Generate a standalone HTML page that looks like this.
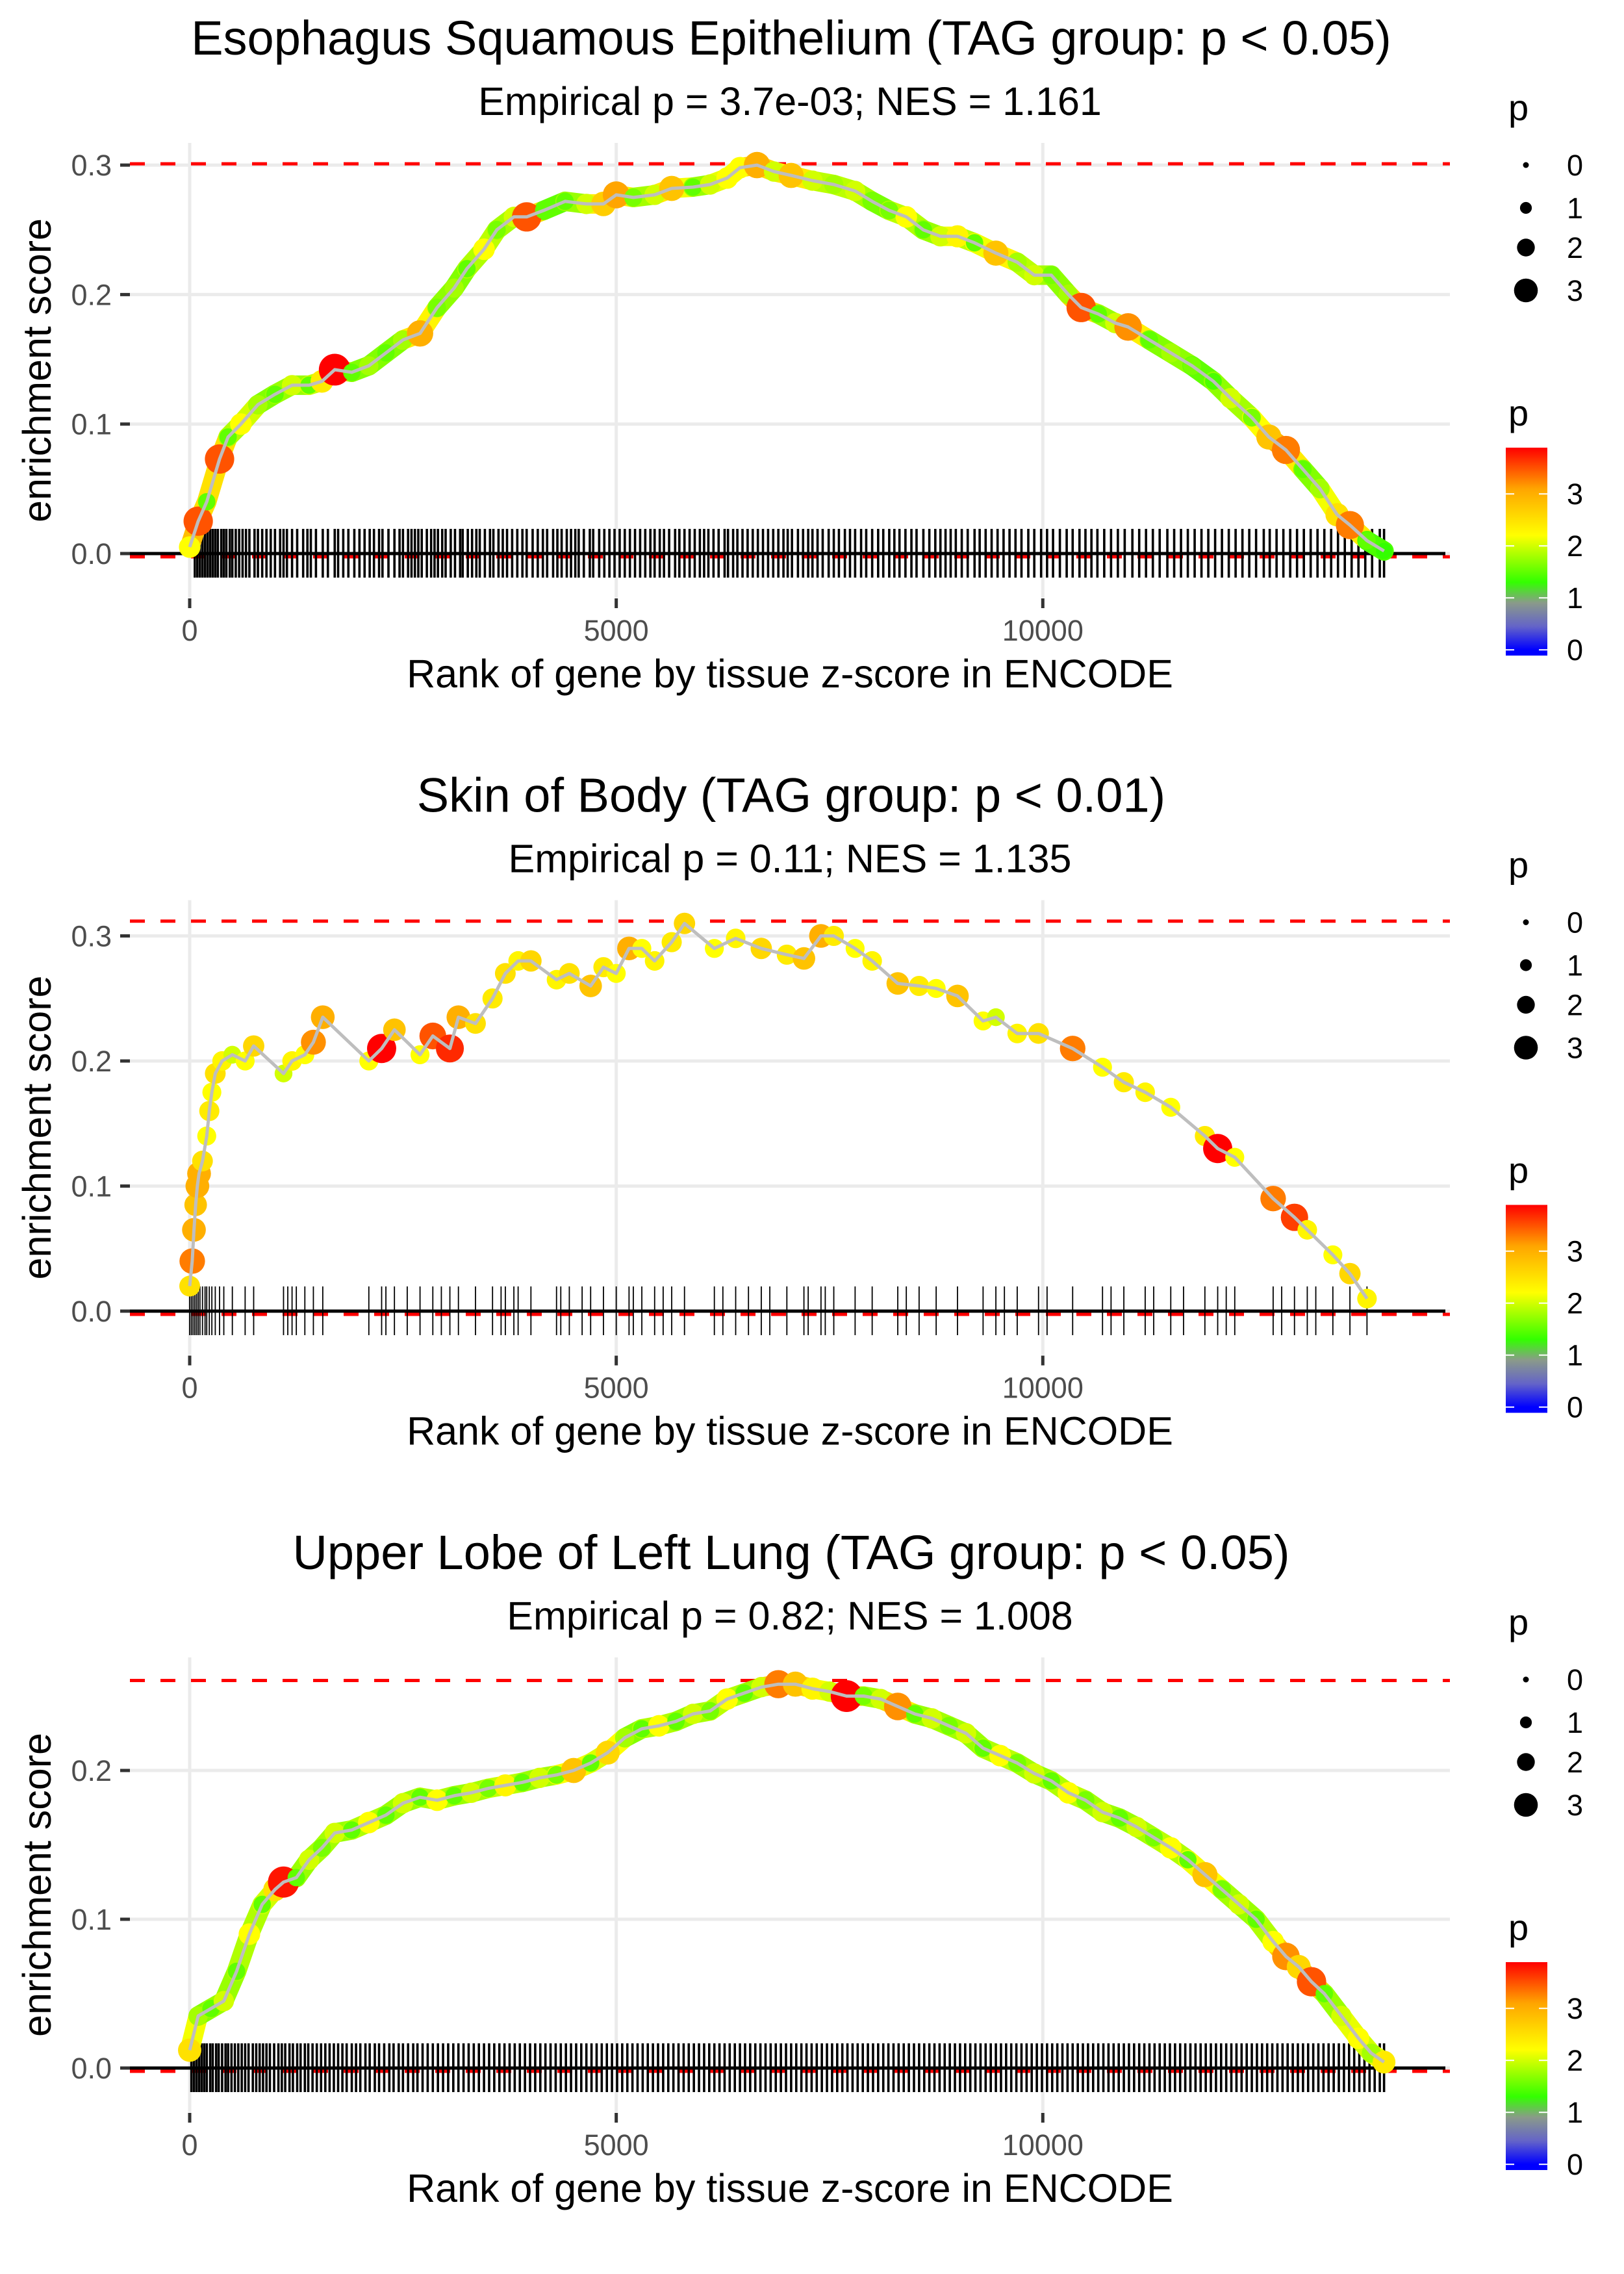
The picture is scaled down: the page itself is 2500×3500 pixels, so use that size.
<!DOCTYPE html>
<html><head><meta charset="utf-8"><style>
html,body{margin:0;padding:0;background:#fff;}
svg{display:block;font-family:"Liberation Sans",Arial,sans-serif;}
</style></head><body>
<svg id="chart" width="2500" height="3500" viewBox="0 0 2500 3500" xmlns="http://www.w3.org/2000/svg"></svg>
<script>
const titles = ["Esophagus Squamous Epithelium (TAG group: p < 0.05)","Skin of Body (TAG group: p < 0.01)","Upper Lobe of Left Lung (TAG group: p < 0.05)"];
const subtitles = ["Empirical p = 3.7e-03; NES = 1.161","Empirical p = 0.11; NES = 1.135","Empirical p = 0.82; NES = 1.008"];
const maxES = [0.301, 0.3118, 0.2605];
const yTicks = [[0,0.1,0.2,0.3],[0,0.1,0.2,0.3],[0,0.1,0.2]];
const yTickLabels = [["0.0","0.1","0.2","0.3"],["0.0","0.1","0.2","0.3"],["0.0","0.1","0.2"]];
const xTicks = [0,5000,10000];
const xTickLabels = ["0","5000","10000"];
const sizeLegendValues = [0,1,2,3];
const colorLegendTicks = [0,1,2,3];

const p1Ranks = [0,100,200,350,450,600,800,1000,1200,1400,1550,1700,1900,2100,2300,2500,2700,2900,3100,3250,3450,3600,3800,3950,4150,4400,4650,4850,5000,5200,5450,5650,5900,6100,6300,6450,6650,6850,7050,7300,7550,7800,8000,8200,8400,8600,8800,9000,9200,9450,9700,9900,10100,10300,10450,10650,10850,11000,11250,11500,11750,12000,12200,12450,12650,12850,13050,13250,13450,13600,13800,14000];
const p1ES = [0.005,0.025,0.04,0.073,0.09,0.1,0.115,0.123,0.13,0.13,0.133,0.142,0.14,0.145,0.155,0.165,0.17,0.19,0.205,0.22,0.235,0.25,0.26,0.26,0.265,0.272,0.27,0.27,0.277,0.275,0.277,0.282,0.283,0.285,0.29,0.298,0.3,0.295,0.292,0.288,0.285,0.28,0.272,0.265,0.26,0.25,0.245,0.245,0.24,0.232,0.225,0.215,0.215,0.2,0.19,0.185,0.178,0.175,0.165,0.155,0.145,0.133,0.12,0.105,0.09,0.08,0.065,0.05,0.03,0.022,0.01,0.002];
const p1P = [2.2,3.5,1.5,3.5,1.5,2.2,1.8,1.5,2.0,1.5,2.4,3.9,1.5,1.8,1.5,1.8,3.0,1.6,1.8,1.5,2.2,1.6,2.0,3.5,1.5,1.5,2.0,2.7,3.1,1.6,2.0,2.8,1.5,2.0,2.2,2.2,3.0,2.0,2.8,2.0,1.8,2.0,1.6,1.6,2.2,1.5,2.0,2.3,1.5,2.8,1.8,2.0,1.6,1.8,3.5,1.5,2.0,3.2,1.5,1.8,1.6,1.4,2.0,1.6,2.8,3.3,1.5,1.8,2.5,3.3,1.5,1.3];
const p1Rug = [60,90,120,150,180,210,240,270,300,330,370,400,430,470,500,540,580,620,660,700,760,800,850,900,950,1000,1060,1100,1140,1200,1260,1330,1380,1420,1480,1560,1620,1700,1740,1800,1860,1930,1990,2050,2110,2160,2220,2260,2330,2400,2460,2500,2560,2600,2640,2680,2720,2780,2830,2870,2910,2960,3000,3060,3110,3170,3200,3260,3310,3360,3400,3460,3520,3560,3620,3670,3720,3780,3840,3900,3950,4020,4080,4140,4190,4260,4310,4360,4420,4470,4520,4560,4620,4690,4730,4800,4860,4920,4980,5040,5100,5160,5220,5280,5340,5400,5450,5510,5560,5620,5690,5740,5800,5860,5920,5980,6030,6080,6140,6200,6270,6310,6370,6420,6480,6540,6600,6660,6720,6780,6840,6900,6960,7010,7060,7130,7190,7250,7300,7360,7420,7490,7550,7610,7680,7740,7800,7870,7930,8000,8070,8130,8200,8260,8320,8390,8460,8520,8600,8670,8740,8800,8860,8920,8980,9050,9120,9200,9260,9330,9400,9470,9540,9610,9680,9750,9830,9900,9980,10050,10120,10200,10280,10350,10430,10500,10570,10640,10720,10800,10880,10960,11050,11130,11210,11290,11370,11460,11540,11620,11700,11780,11860,11940,12020,12100,12180,12260,12340,12420,12500,12590,12660,12740,12820,12900,12980,13060,13140,13220,13300,13380,13460,13540,13620,13700,13780,13860,13950,14000];

const p2Ranks = [0,30,50,70,90,110,150,200,230,260,300,380,500,650,750,1100,1200,1350,1450,1560,2100,2250,2400,2700,2850,3050,3150,3350,3550,3700,3850,4000,4300,4450,4700,4850,5000,5150,5300,5450,5650,5800,6150,6400,6700,7000,7200,7400,7550,7800,8000,8300,8550,8750,9000,9300,9450,9700,9950,10350,10700,10950,11200,11500,11900,12050,12250,12700,12950,13100,13400,13600,13800];
const p2ES = [0.02,0.04,0.065,0.085,0.1,0.11,0.12,0.14,0.16,0.175,0.19,0.2,0.205,0.2,0.212,0.19,0.2,0.205,0.215,0.235,0.2,0.21,0.225,0.205,0.22,0.21,0.235,0.23,0.25,0.27,0.28,0.28,0.265,0.27,0.26,0.275,0.27,0.29,0.29,0.28,0.295,0.31,0.29,0.298,0.29,0.285,0.282,0.3,0.3,0.29,0.28,0.262,0.26,0.258,0.252,0.232,0.235,0.222,0.222,0.21,0.195,0.183,0.175,0.163,0.14,0.13,0.123,0.09,0.075,0.065,0.045,0.03,0.01];
const p2P = [2.5,3.3,3.0,2.8,3.0,3.0,2.5,2.2,2.4,2.2,2.5,2.3,2.0,2.2,2.6,2.0,2.3,2.2,3.2,3.0,2.2,3.9,2.8,2.2,3.5,3.7,3.0,2.5,2.4,2.5,2.3,2.6,2.3,2.5,2.8,2.4,2.2,3.0,2.2,2.3,2.4,2.6,2.2,2.3,2.6,2.4,2.8,3.0,2.4,2.2,2.3,2.8,2.4,2.2,2.8,2.2,2.0,2.3,2.5,3.3,2.2,2.4,2.3,2.2,2.4,3.9,2.2,3.3,3.6,2.3,2.2,2.6,2.3];
const p2Rug = [0,20,40,60,80,100,120,150,180,200,230,260,300,350,400,500,650,750,1100,1150,1200,1250,1350,1450,1560,2100,2250,2300,2400,2550,2700,2850,2950,3050,3150,3350,3550,3650,3700,3800,3850,4000,4300,4350,4450,4600,4700,4850,5000,5150,5200,5300,5450,5550,5650,5800,6150,6250,6400,6550,6700,6800,7000,7200,7250,7400,7450,7550,7800,8000,8300,8400,8550,8750,9000,9300,9450,9550,9700,9950,10050,10350,10700,10800,10950,11200,11300,11500,11650,11900,12050,12150,12250,12700,12800,12950,13100,13200,13400,13600,13800];

const p3Ranks = [0,100,250,400,550,700,850,1000,1100,1250,1400,1550,1700,1900,2100,2300,2500,2700,2900,3100,3300,3500,3700,3900,4100,4300,4500,4700,4900,5100,5300,5500,5700,5900,6100,6300,6500,6700,6900,7100,7300,7500,7700,7900,8100,8300,8500,8700,8900,9100,9300,9500,9700,9900,10100,10300,10500,10700,10900,11100,11300,11500,11700,11900,12100,12300,12500,12700,12850,13000,13150,13300,13500,13700,13850,14000];
const p3ES = [0.012,0.035,0.04,0.045,0.065,0.09,0.11,0.12,0.125,0.128,0.14,0.148,0.158,0.16,0.165,0.17,0.178,0.182,0.18,0.183,0.185,0.188,0.19,0.192,0.195,0.197,0.2,0.205,0.212,0.222,0.228,0.23,0.233,0.238,0.24,0.248,0.252,0.256,0.258,0.258,0.255,0.253,0.25,0.25,0.248,0.243,0.238,0.235,0.23,0.225,0.215,0.21,0.205,0.198,0.193,0.185,0.18,0.172,0.168,0.162,0.155,0.148,0.14,0.13,0.12,0.11,0.1,0.085,0.075,0.068,0.058,0.05,0.035,0.02,0.01,0.004];
const p3P = [2.5,1.8,1.5,2.0,1.5,2.2,1.5,2.5,3.8,1.5,2.0,1.6,2.0,1.5,2.2,1.5,2.0,1.5,2.2,1.5,2.0,1.6,2.3,1.5,2.0,1.6,2.8,1.5,2.6,1.8,1.5,2.2,1.5,2.0,1.6,2.2,1.5,2.0,3.3,2.8,2.3,2.0,3.9,1.6,2.0,3.2,1.5,2.0,1.6,2.0,1.5,2.2,1.6,2.0,1.5,2.2,1.6,2.0,1.5,2.0,1.6,2.2,1.5,2.8,1.6,2.0,1.5,2.2,3.2,2.6,3.5,1.5,2.0,2.2,1.8,2.4];
const p3Rug = [20,50,80,110,140,170,200,240,270,310,340,380,420,450,490,530,570,610,650,690,740,780,820,860,900,940,990,1040,1080,1120,1170,1210,1260,1300,1350,1390,1440,1490,1540,1590,1640,1690,1740,1790,1840,1900,1950,2000,2060,2110,2170,2220,2280,2340,2390,2450,2500,2560,2620,2670,2730,2790,2850,2910,2970,3030,3090,3150,3210,3270,3330,3390,3450,3510,3570,3630,3690,3750,3810,3870,3930,3990,4050,4110,4170,4230,4290,4350,4410,4470,4530,4590,4650,4710,4770,4830,4890,4950,5010,5070,5130,5190,5250,5310,5370,5430,5490,5550,5610,5670,5730,5790,5850,5910,5970,6030,6090,6150,6210,6270,6330,6390,6450,6510,6570,6630,6690,6750,6810,6870,6930,6990,7050,7110,7170,7230,7290,7350,7410,7470,7530,7590,7650,7710,7770,7830,7890,7950,8010,8070,8130,8190,8250,8310,8370,8430,8490,8550,8610,8670,8730,8790,8850,8910,8970,9030,9090,9150,9210,9270,9330,9390,9450,9510,9570,9630,9690,9750,9810,9870,9930,9990,10050,10110,10170,10230,10290,10350,10410,10470,10530,10590,10650,10710,10770,10830,10890,10950,11010,11070,11130,11190,11250,11310,11370,11430,11490,11550,11610,11670,11730,11790,11850,11910,11970,12030,12090,12150,12210,12270,12330,12390,12450,12510,12570,12630,12690,12750,12810,12870,12930,12990,13050,13110,13170,13230,13290,13350,13410,13470,13530,13590,13650,13710,13770,13830,13890,13950,14000];

const panelRanks = [p1Ranks,p2Ranks,p3Ranks];
const panelES = [p1ES,p2ES,p3ES];
const panelP = [p1P,p2P,p3P];
const panelRug = [p1Rug,p2Rug,p3Rug];

// layout (not data)
const PANEL_H = 1165.5;
const L = 200, R = 2232;
const X0 = 292, XPER = 0.13133;
const zeroY = [852, 852+1166, 852+2331];
const pxPerUnit = [1993, 1925, 2290];
const bandMode = [true, false, true];

const svg = document.getElementById('chart');
const NS = 'http://www.w3.org/2000/svg';
function mk(tag, attrs, parent){ const e=document.createElementNS(NS,tag); for(const k in attrs) e.setAttribute(k,attrs[k]); (parent||svg).appendChild(e); return e; }
function xScale(r){ return X0 + r*XPER; }
function yScale(i,v){ return zeroY[i] - v*pxPerUnit[i]; }
function rad(p){ return 4.5 + 4.6*p; }
const stops = [[0,[0,0,255]],[0.45,[100,100,200]],[0.9,[138,154,138]],[1.3,[51,255,0]],[2.2,[255,255,0]],[3.1,[255,165,0]],[3.9,[255,0,0]]];
function col(p){
  if(p<=stops[0][0]) return 'rgb('+stops[0][1].join(',')+')';
  for(let k=1;k<stops.length;k++){ if(p<=stops[k][0]){ const a=stops[k-1],b=stops[k]; const t=(p-a[0])/(b[0]-a[0]); const c=a[1].map((v,j)=>Math.round(v+(b[1][j]-v)*t)); return 'rgb('+c.join(',')+')'; } }
  return 'rgb(255,0,0)';
}

const defs = mk('defs',{});
const grad = mk('linearGradient',{id:'cbar',x1:'0',y1:'1',x2:'0',y2:'0'},defs);
const cbMin=-0.11, cbMax=3.89;
for(let k=0;k<stops.length;k++){ mk('stop',{offset:((stops[k][0]-cbMin)/(cbMax-cbMin)).toFixed(3),'stop-color':col(stops[k][0])},grad); }

for(let i=0;i<3;i++){
  const off = i*PANEL_H;
  const g = mk('g',{});
  
  
  const top = 220+off, bot = 920+off;
  const yt = yTicks[i];
  for(let k=0;k<yt.length;k++){
    const y=yScale(i,yt[k]);
    const gl=mk('line',{x1:L,x2:R,y1:y,y2:y,stroke:'#EBEBEB','stroke-width':5},g);
    
    
    const tk=mk('line',{x1:185,x2:200,y1:y,y2:y,stroke:'#333','stroke-width':5},g);
    
    
    const tl=mk('text',{x:172,y:y+16,'text-anchor':'end','font-size':45,fill:'#4D4D4D'},g);
    tl.textContent=yTickLabels[i][k];
    
    
  }
  for(let k=0;k<xTicks.length;k++){
    const x=xScale(xTicks[k]);
    const gl=mk('line',{x1:x,x2:x,y1:top,y2:bot,stroke:'#EBEBEB','stroke-width':5},g);
    
    
    const tk=mk('line',{x1:x,x2:x,y1:921+off,y2:936+off,stroke:'#333','stroke-width':5},g);
    
    
    const tl=mk('text',{x:x,y:986+off,'text-anchor':'middle','font-size':45,fill:'#4D4D4D'},g);
    tl.textContent=xTickLabels[k];
    
    
  }
  const md=mk('line',{x1:L,x2:R,y1:yScale(i,maxES[i]),y2:yScale(i,maxES[i]),stroke:'#FF0000','stroke-width':5,'stroke-dasharray':'23 24'},g);
  
  
  const zd=mk('line',{x1:L,x2:R,y1:zeroY[i]+5,y2:zeroY[i]+5,stroke:'#FF0000','stroke-width':5,'stroke-dasharray':'23 24'},g);
  
  
  const rg=mk('g',{},g);
  
  
  const rug=panelRug[i];
  for(let k=0;k<rug.length;k++){
    const x=xScale(rug[k]);
    const ln=mk('line',{x1:x,x2:x,y1:zeroY[i]-38,y2:zeroY[i]+37,stroke:'#000','stroke-width':bandMode[i]?3.6:1.8},rg);
    
    
  }
  const zl=mk('line',{x1:L,x2:2225,y1:zeroY[i],y2:zeroY[i],stroke:'#000','stroke-width':5},g);
  
  
  const rk=panelRanks[i], es=panelES[i], pv=panelP[i];
  if(bandMode[i]){
    for(let k=1;k<rk.length;k++){
      const s=mk('line',{x1:xScale(rk[k-1]),y1:yScale(i,es[k-1]),x2:xScale(rk[k]),y2:yScale(i,es[k]),stroke:col((pv[k-1]+pv[k])/2),'stroke-width':30,'stroke-linecap':'round'},g);
      
      
    }
  }
  for(let k=0;k<rk.length;k++){
    const c=mk('circle',{cx:xScale(rk[k]),cy:yScale(i,es[k]),r:rad(pv[k])+(bandMode[i]?2:0),fill:col(pv[k])},g);
    
    
  }
  let d='';
  for(let k=0;k<rk.length;k++){ d+=(k?'L':'M')+xScale(rk[k]).toFixed(1)+' '+yScale(i,es[k]).toFixed(1); }
  const pl=mk('path',{d:d,fill:'none',stroke:'#BEBEBE','stroke-width':5,'stroke-linejoin':'round'},g);
  
  
  const t=mk('text',{x:1218,y:84+off,'text-anchor':'middle','font-size':74,fill:'#000'},g);
  t.textContent=titles[i];
  
  
  const st=mk('text',{x:1216,y:177+off,'text-anchor':'middle','font-size':61,fill:'#000'},g);
  st.textContent=subtitles[i];
  
  
  const xt=mk('text',{x:1216,y:1058+off,'text-anchor':'middle','font-size':61,fill:'#000'},g);
  xt.textContent='Rank of gene by tissue z-score in ENCODE';
  
  
  const ycy=570+off;
  const ytl=mk('text',{x:78,y:ycy,'text-anchor':'middle','font-size':61,fill:'#000',transform:'rotate(-90 78 '+ycy+')'},g);
  ytl.textContent='enrichment score';
  
  
  const lg=mk('g',{},g);
  
  
  const lt=mk('text',{x:2322,y:185+off,'font-size':56,fill:'#000'},lg);
  lt.textContent='p';
  
  
  const ly=[254,320,381,447];
  for(let k=0;k<sizeLegendValues.length;k++){
    const c=mk('circle',{cx:2349,cy:ly[k]+off,r:rad(sizeLegendValues[k]),fill:'#000'},lg);
    
    
    const tx=mk('text',{x:2412,y:ly[k]+off+16,'font-size':45,fill:'#000'},lg);
    tx.textContent=String(sizeLegendValues[k]);
    
    
  }
  const cg=mk('g',{},g);
  
  
  const ct=mk('text',{x:2322,y:655+off,'font-size':56,fill:'#000'},cg);
  ct.textContent='p';
  
  
  const cbTop=689+off, cbBot=1009+off;
  const cb=mk('rect',{x:2318,y:cbTop,width:64,height:cbBot-cbTop,fill:'url(#cbar)'},cg);
  
  
  for(let k=0;k<colorLegendTicks.length;k++){
    const v=colorLegendTicks[k];
    const y=cbBot-(v-cbMin)/(cbMax-cbMin)*(cbBot-cbTop);
    const a=mk('line',{x1:2318,x2:2331,y1:y,y2:y,stroke:'#fff','stroke-width':2},cg);
    
    
    const b=mk('line',{x1:2369,x2:2382,y1:y,y2:y,stroke:'#fff','stroke-width':2},cg);
    
    
    const tx=mk('text',{x:2412,y:y+16,'font-size':45,fill:'#000'},cg);
    tx.textContent=String(v);
    
    
  }
}
</script>
</body></html>
